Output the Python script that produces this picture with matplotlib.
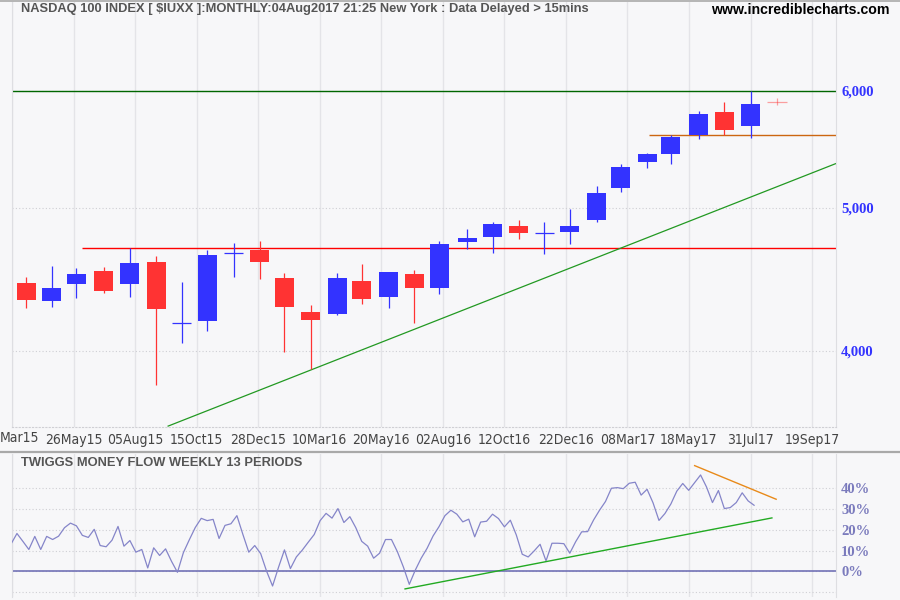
import matplotlib
matplotlib.use("Agg")
import matplotlib.pyplot as plt
import matplotlib.dates as mdates
import matplotlib.ticker as mticker
from matplotlib.lines import Line2D
from matplotlib import font_manager
import pandas as pd

# monthly candles, dated at the last trading day of each month
months = [
    "2015-03-31", "2015-04-30", "2015-05-29", "2015-06-30", "2015-07-31", "2015-08-31",
    "2015-09-30", "2015-10-30", "2015-11-30", "2015-12-31", "2016-01-29", "2016-02-29",
    "2016-03-31", "2016-04-29", "2016-05-31", "2016-06-30", "2016-07-29", "2016-08-31",
    "2016-09-30", "2016-10-31", "2016-11-30", "2016-12-30", "2017-01-31", "2017-02-28",
    "2017-03-31", "2017-04-28", "2017-05-31", "2017-06-30", "2017-07-31", "2017-08-31",
]
opens = [4450, 4327, 4438, 4534, 4438, 4599, 4176, 4190, 4659, 4685, 4485, 4254,
         4240, 4464, 4354, 4508, 4416, 4738, 4775, 4863, 4805, 4813, 4904, 5161,
         5375, 5441, 5605, 5807, 5685, 5897]
highs = [4487, 4565, 4555, 4562, 4697, 4637, 4452, 4685, 4734, 4745, 4520, 4300,
         4520, 4580, 4527, 4536, 4746, 4841, 4894, 4909, 4894, 4994, 5175, 5356,
         5448, 5600, 5816, 5898, 6000, 5932]
lows = [4280, 4287, 4348, 4377, 4350, 3791, 4053, 4125, 4487, 4478, 3992, 3891,
        4228, 4307, 4280, 4181, 4374, 4692, 4658, 4760, 4651, 4723, 4889, 5129,
        5317, 5358, 5570, 5600, 5579, 5873]
closes = [4334, 4416, 4508, 4395, 4591, 4274, 4182, 4649, 4663, 4594, 4282, 4201,
          4485, 4341, 4527, 4416, 4728, 4773, 4878, 4805, 4810, 4863, 5119, 5331,
          5439, 5585, 5789, 5649, 5879, 5893]

# horizontal support / resistance levels and trendline (date, price)
resistance_high = 6000
resistance_old = 4695
support_recent = 5600
red_start = "2015-06-05"
orange_start = "2017-04-02"
trend_dates = ["2015-09-14", "2017-11-08"]
trend_prices = [3558, 5357]

# weekly Twiggs Money Flow (13 periods), %
tmf = [
    13.1, 18.2, 14.4, 10.5, 16.8, 10.5, 16.8, 15.3, 16.9, 21.0, 23.2, 21.9, 17.3,
    16.3, 20.2, 12.4, 11.8, 15.0, 21.6, 12.1, 14.8, 9.2, 10.5, 1.6, 11.3, 7.6,
    10.8, 4.8, -0.5, 9.0, 15.2, 21.1, 25.5, 24.4, 25.0, 15.8, 22.1, 22.9, 26.8,
    17.8, 9.2, 12.4, 8.5, 0.0, -7.1, 1.9, 10.3, 1.3, 6.9, 10.2, 14.0, 17.7, 24.4,
    27.9, 25.6, 30.2, 23.5, 26.3, 21.0, 14.4, 12.1, 6.3, 8.7, 15.3, 15.3, 9.4,
    2.1, -6.3, 0.5,
    6.3, 11.1, 17.0, 21.5, 26.8, 29.4, 27.5, 23.8, 25.1, 16.6, 23.7, 24.1, 27.5,
    25.4, 21.4, 24.6, 17.5, 8.2, 6.9, 9.8, 13.0, 5.0, 13.5, 13.5, 13.3, 8.7, 14.3,
    19.0, 19.1, 24.7, 29.4, 33.6, 40.0, 40.3, 39.8, 42.4, 42.9, 36.7, 39.5, 33.0,
    24.5, 27.8, 32.4, 38.6, 42.3, 39.0, 42.7, 46.4, 40.6, 33.1, 38.9, 30.2, 30.7,
    33.1, 37.8, 33.9, 31.8,
]
tmf_dates = pd.date_range("2015-03-13", "2017-08-04", freq="W-FRI")
tmf_up_dates = ["2016-06-19", "2017-08-25"]
tmf_up_values = [-8.5, 25.7]
tmf_down_dates = ["2017-05-26", "2017-08-30"]
tmf_down_values = [50.9, 34.7]

# first label is only partly visible at the left edge
first_label = "Mar15"
tick_labels = ["26May15", "05Aug15", "15Oct15", "28Dec15", "10Mar16",
               "20May16", "02Aug16", "12Oct16", "22Dec16", "08Mar17", "18May17",
               "31Jul17", "19Sep17"]
tmf_ticks = [0, 10, 20, 30, 40]

BG = "#f7f7f9"
BLUE = "#3333ff"
RED = "#ff3333"
GRID = "#e4e4e8"

names = {f.name for f in font_manager.fontManager.ttflist}
if "Liberation Sans Narrow" in names:
    narrow = dict(fontfamily="Liberation Sans Narrow")
else:
    narrow = dict(fontfamily="DejaVu Sans", fontstretch="condensed")

fig = plt.figure(figsize=(9, 6), dpi=100, facecolor=BG)
ax = fig.add_axes([12 / 900, 1 - 427 / 600, 824 / 900, 425 / 600], facecolor=BG)
ax2 = fig.add_axes([12 / 900, 1 - 597 / 600, 824 / 900, 143 / 600], facecolor=BG, sharex=ax)

x_left = mdates.date2num(pd.Timestamp("2015-03-14 04:00"))
span = 970.3
step = 72.47
ax.set_xlim(x_left, x_left + span)
ticks = [x_left + step * k for k in range(len(tick_labels) + 1)]

# --- price panel ---
ax.set_yscale("log")
ax.set_ylim(3553, 6893)
ax.yaxis.set_major_locator(mticker.FixedLocator([4000, 5000, 6000]))
ax.yaxis.set_minor_locator(mticker.NullLocator())
ax.yaxis.set_major_formatter(mticker.FuncFormatter(lambda v, p: f"{v:,.0f}"))
ax.yaxis.set_minor_formatter(mticker.NullFormatter())
ax.yaxis.tick_right()
ax.tick_params(axis="y", length=0, pad=3.6, labelcolor=BLUE)
for lab in ax.get_yticklabels():
    lab.set_fontfamily(["Liberation Serif", "DejaVu Serif"])
    lab.set_fontweight("bold")
    lab.set_fontsize(10.5)

ax.set_xticks(ticks)
ax.set_xticklabels([""] + tick_labels, fontsize=10, color="#444444", **narrow)
ax.tick_params(axis="x", length=0, pad=4)
ax.text(0, 1 - 438 / 600, first_label, transform=fig.transFigure, ha="left", va="center",
        fontsize=10, color="#444444", **narrow)
ax.grid(axis="x", color=GRID, lw=1, ls="-", zorder=0)
ax.grid(axis="y", color="#cfcfd4", lw=0.8, ls=(0, (1, 2)), zorder=0)
ax.set_axisbelow(True)
for side in ["left", "right"]:
    ax.spines[side].set_color("#dedee2")
ax.spines["top"].set_visible(False)
ax.spines["bottom"].set_color("#cfcfd4")
ax.spines["bottom"].set_linestyle((0, (1, 2)))

xs = mdates.date2num(pd.to_datetime(months))
body_w = 22.4
for i, (xi, o, h, l, c) in enumerate(zip(xs, opens, highs, lows, closes)):
    col = BLUE if c >= o else RED
    alpha = 0.45 if i == len(xs) - 1 else 1.0
    ax.vlines(xi, l, h, color=col, lw=0.9, alpha=alpha, zorder=3)
    if abs(c - o) / o < 0.003:
        ax.hlines((o + c) / 2, xi - body_w / 2, xi + body_w / 2, color=col, lw=0.9,
                  alpha=alpha, zorder=3)
    else:
        ax.bar(xi, abs(c - o), bottom=min(o, c), width=body_w, color=col, lw=0,
               alpha=alpha, zorder=3)

ax.axhline(resistance_high, color="#006600", lw=1.0, zorder=2)
x_end = x_left + span
ax.hlines(resistance_old, mdates.date2num(pd.Timestamp(red_start)), x_end,
          color="#ff0000", lw=1.0, zorder=2)
ax.hlines(support_recent, mdates.date2num(pd.Timestamp(orange_start)), x_end,
          color="#cc6611", lw=1.0, zorder=2)
ax.plot(mdates.date2num(pd.to_datetime(trend_dates)), trend_prices,
        color="#229922", lw=0.9, zorder=2)

# --- money flow panel ---
ax2.set_ylim(-12.4, 56.5)
ax2.set_yticks([-10] + tmf_ticks)
ax2.yaxis.tick_right()
ax2.set_yticklabels([""] + [f"{v}%" for v in tmf_ticks])
ax2.tick_params(axis="y", length=0, pad=3.6, labelcolor="#7b7bbd")
for lab in ax2.get_yticklabels():
    lab.set_fontfamily(["Liberation Serif", "DejaVu Serif"])
    lab.set_fontweight("bold")
    lab.set_fontsize(10.5)
ax2.tick_params(axis="x", length=0, labelbottom=False)
ax2.grid(axis="x", color=GRID, lw=1, ls="-", zorder=0)
ax2.grid(axis="y", color="#cfcfd4", lw=0.8, ls=(0, (1, 2)), zorder=0)
ax2.set_axisbelow(True)
for side in ["left", "right"]:
    ax2.spines[side].set_color("#dedee2")
for side in ["top", "bottom"]:
    ax2.spines[side].set_visible(False)
ax2.axhline(0, color="#7272b6", lw=1.2, zorder=2)
ax2.plot(mdates.date2num(tmf_dates), tmf, color="#8585c9", lw=0.9, zorder=3)
ax2.plot(mdates.date2num(pd.to_datetime(tmf_up_dates)), tmf_up_values,
         color="#22aa22", lw=1.0, zorder=3)
ax2.plot(mdates.date2num(pd.to_datetime(tmf_down_dates)), tmf_down_values,
         color="#e88a1a", lw=1.0, zorder=3)

# --- frame lines and titles ---
fig.add_artist(Line2D([0, 1], [1 - 452 / 600] * 2, color="#a9a9a9", lw=1.6))
fig.add_artist(Line2D([0, 1], [1 - 0.8 / 600] * 2, color="#a9a9a9", lw=1.2))

title_font = dict(fontfamily=["Liberation Sans", "DejaVu Sans"], fontweight="bold",
                  va="center")
fig.text(21 / 900, 1 - 9 / 600,
         "NASDAQ 100 INDEX [ $IUXX ]:MONTHLY:04Aug2017 21:25 New York : Data Delayed > 15mins",
         color="#555555", fontsize=9.3, **title_font)
fig.text(890 / 900, 1 - 10 / 600, "www.incrediblecharts.com", color="#000000",
         ha="right", fontsize=10.2, **title_font)
fig.text(21 / 900, 1 - 463 / 600, "TWIGGS MONEY FLOW WEEKLY 13 PERIODS",
         color="#555555", fontsize=9.3, **title_font)

fig.savefig("out.png", dpi=100, facecolor=BG)
